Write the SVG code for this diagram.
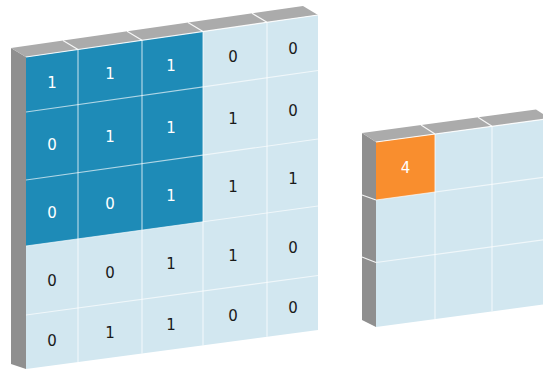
<svg xmlns="http://www.w3.org/2000/svg" width="543" height="371" viewBox="0 0 543 371">
<style>
.top{fill:#ababab}
.side{fill:#8f8f8f}
.light{fill:#d2e7f0}
.dark{fill:#1e8bb7}
.orange{fill:#f98e2e}
.grid{stroke:#ffffff;stroke-opacity:0.65;stroke-width:1.2;fill:none}
.edge{stroke:#ffffff;stroke-opacity:0.9;stroke-width:1.2;fill:none}
.t{font-family:"DejaVu Sans",Verdana,sans-serif;font-size:15px;text-anchor:middle}
.tw{fill:#ffffff}
.tb{fill:#1a1a1a}
</style>
<g id="input-grid">
  <polygon class="side" points="11,48 26,57 26,369 11,364"/>
  <polygon class="top" points="11,48 26,57 318,15 303,6"/>
  <polygon class="light" points="26,57 318,15 318,330 26,369"/>
  <polygon class="dark" points="26,57 203,31.5 203,221.8 26,246"/>
  <g class="grid">
    <path d="M78,49.5V362.1M142,40.3V353.5M203,31.5V345.4M267,22.3V336.8"/>
    <path d="M26,112L318,70.5M26,180L318,139M26,246L318,206M26,315L318,275.5"/>
  </g>
  <g class="edge">
    <path d="M26,57L318,15"/>
    <path d="M78,49.5L63,40.5M142,40.3L127,31.3M203,31.5L188,22.5M267,22.3L252,13.3"/>
  </g>
  <g class="t">
    <text class="tw" x="52" y="87.5">1</text>
    <text class="tw" x="110" y="78.5">1</text>
    <text class="tw" x="171" y="70.5">1</text>
    <text class="tb" x="233" y="61.5">0</text>
    <text class="tb" x="293" y="53.5">0</text>

    <text class="tw" x="52" y="149.5">0</text>
    <text class="tw" x="110" y="141.5">1</text>
    <text class="tw" x="171" y="132.5">1</text>
    <text class="tb" x="233" y="123.5">1</text>
    <text class="tb" x="293" y="115.5">0</text>

    <text class="tw" x="52" y="217.5">0</text>
    <text class="tw" x="110" y="208.5">0</text>
    <text class="tw" x="171" y="200.5">1</text>
    <text class="tb" x="233" y="191.5">1</text>
    <text class="tb" x="293" y="183.5">1</text>

    <text class="tb" x="52" y="285.5">0</text>
    <text class="tb" x="110" y="277.5">0</text>
    <text class="tb" x="171" y="268.5">1</text>
    <text class="tb" x="233" y="260.5">1</text>
    <text class="tb" x="293" y="252.5">0</text>

    <text class="tb" x="52" y="345.5">0</text>
    <text class="tb" x="110" y="337.5">1</text>
    <text class="tb" x="171" y="329.5">1</text>
    <text class="tb" x="233" y="320.5">0</text>
    <text class="tb" x="293" y="312.5">0</text>
  </g>
</g>
<g id="output-grid">
  <polygon class="side" points="362,133 376,142 376,327 362,320"/>
  <polygon class="top" points="362,133 376,142 550,118.5 536,109.5"/>
  <polygon class="light" points="376,142 550,118.5 550,303.5 376,327"/>
  <polygon class="orange" points="376,142 435,134 435,192 376,200"/>
  <g class="grid">
    <path d="M435,134V319M492,126.3V311.3"/>
    <path d="M376,200L550,176.5M376,262.5L550,239"/>
  </g>
  <g class="edge">
    <path d="M376,142L550,118.5"/>
    <path d="M435,134L421,125M492,126.3L478,117.3"/>
    <path d="M376,200L362,195M376,262.5L362,257"/>
  </g>
  <text class="t tw" x="405.5" y="172.5">4</text>
</g>
</svg>
